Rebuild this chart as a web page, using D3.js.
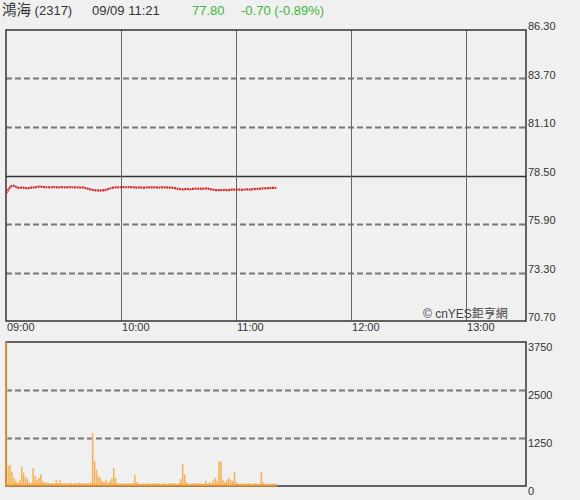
<!DOCTYPE html>
<html><head><meta charset="utf-8">
<script src="https://cdn.jsdelivr.net/npm/d3@7"></script>
<style>
html,body{margin:0;padding:0;background:#f0f0f0;}
svg{display:block;font-family:"Liberation Sans",Arial,"Noto Sans CJK TC",sans-serif;}
</style></head><body>
<svg id="c" width="580" height="500"></svg>
<script>
// ---- data ----
const stockName = "鴻海 (2317)";
const timeStamp = "09/09 11:21";
const lastPrice = "77.80";
const change = "-0.70 (-0.89%)";
const watermark = "© cnYES鉅亨網";
const prevClose = 78.50;
const priceTicks = [86.30, 83.70, 81.10, 78.50, 75.90, 73.30, 70.70];
const volumeTicks = [3750, 2500, 1250, 0];
const timeLabels = ["09:00", "10:00", "11:00", "12:00", "13:00"];
const timeLabelMinutes = [0, 60, 120, 180, 240];
// per-minute prices from 09:00 to 11:21
const prices = [
 77.55,77.70,77.85,77.95,77.95,77.90,77.85,77.82,77.85,77.85,
 77.82,77.83,77.82,77.85,77.87,77.85,77.88,77.90,77.90,77.88,
 77.88,77.87,77.87,77.86,77.87,77.88,77.87,77.86,77.87,77.88,
 77.87,77.86,77.87,77.88,77.87,77.87,77.86,77.87,77.86,77.85,
 77.86,77.84,77.82,77.78,77.76,77.73,77.72,77.70,77.71,77.69,
 77.72,77.70,77.73,77.76,77.80,77.83,77.85,77.86,77.86,77.87,
 77.87,77.88,77.87,77.87,77.88,77.87,77.86,77.87,77.85,77.86,
 77.87,77.85,77.84,77.86,77.87,77.86,77.87,77.86,77.86,77.87,
 77.85,77.86,77.86,77.87,77.86,77.85,77.86,77.84,77.82,77.80,
 77.78,77.77,77.76,77.76,77.78,77.77,77.76,77.78,77.78,77.80,
 77.79,77.80,77.78,77.79,77.81,77.80,77.78,77.76,77.74,77.72,
 77.72,77.72,77.72,77.72,77.73,77.72,77.72,77.74,77.75,77.74,
 77.74,77.76,77.74,77.73,77.74,77.75,77.76,77.74,77.76,77.77,
 77.78,77.79,77.78,77.80,77.81,77.81,77.82,77.82,77.83,77.84,
 77.84,77.84
];
// per-minute volumes (lots)
const volumes = [
 3750,520,550,360,200,130,80,150,500,340,
 230,180,100,80,470,260,150,210,310,130,
 80,100,80,60,80,60,160,80,150,70,
 60,80,50,90,70,60,80,60,90,70,
 60,80,70,60,90,1380,650,420,260,210,
 130,100,160,80,130,200,470,210,80,60,
 70,50,80,60,70,60,80,290,100,60,
 50,70,60,50,80,60,50,70,60,80,
 60,50,70,60,50,70,60,80,60,50,
 80,180,570,310,100,60,50,70,60,80,
 60,70,60,50,130,60,100,70,160,210,
 130,650,620,160,100,160,210,160,130,360,
 100,60,50,70,60,50,60,70,50,60,
 70,60,50,360,100,60,50,60,50,60,
 50,50
];

// ---- layout ----
const svg = d3.select("#c");
const X0 = 6, X1 = 526;
const x = d3.scaleLinear().domain([0, 271]).range([X0, 525.5]);
const yP = d3.scaleLinear().domain([70.70, 86.30]).range([321, 30]);
const yV = d3.scaleLinear().domain([0, 3750]).range([486, 342]).clamp(true);

// header
const hdr = svg.append("g").attr("font-size", 13);
hdr.append("text").attr("x", 2).attr("y", 14.5).attr("fill", "#333")
  .call(t => { t.append("tspan").attr("font-size", 14.5).text("鴻海"); t.append("tspan").text(" (2317)"); });
hdr.append("text").attr("x", 92).attr("y", 14.5).attr("fill", "#333").text(timeStamp);
hdr.append("text").attr("x", 192).attr("y", 14.5).attr("fill", "#3cb83c").text(lastPrice);
hdr.append("text").attr("x", 241).attr("y", 14.5).attr("fill", "#3cb83c").text(change);

// price panel grid
const gp = svg.append("g");
priceTicks.slice(1, -1).forEach(p => {
  const solid = Math.abs(p - prevClose) < 1e-6;
  gp.append("line").attr("x1", X0).attr("x2", X1)
    .attr("y1", Math.round(yP(p)) + 0.5).attr("y2", Math.round(yP(p)) + 0.5)
    .attr("stroke", solid ? "#333" : "#777")
    .attr("stroke-width", solid ? 1.5 : 1.8)
    .attr("stroke-dasharray", solid ? null : "6,3");
});
timeLabelMinutes.slice(1).forEach(m => {
  gp.append("line").attr("x1", Math.round(x(m)) + 0.5).attr("x2", Math.round(x(m)) + 0.5)
    .attr("y1", 30).attr("y2", 321).attr("stroke", "#666").attr("stroke-width", 1);
});
svg.append("rect").attr("x", X0).attr("y", 30).attr("width", X1 - X0).attr("height", 291)
  .attr("fill", "none").attr("stroke", "#333").attr("stroke-width", 1.5);

// price labels
svg.append("g").attr("font-size", 11).attr("fill", "#333")
  .selectAll("text").data(priceTicks).join("text")
  .attr("x", 528).attr("y", d => yP(d) - 2.5).attr("dominant-baseline", "middle")
  .text(d => d.toFixed(2));

// time labels
svg.append("g").attr("font-size", 11).attr("fill", "#333")
  .selectAll("text").data(timeLabels).join("text")
  .attr("x", (d, i) => x(timeLabelMinutes[i]) + 1).attr("y", 328.5)
  .attr("dominant-baseline", "middle").text(d => d);

// watermark
svg.append("text").attr("x", 423).attr("y", 315).attr("font-size", 12)
  .attr("dominant-baseline", "middle").attr("fill", "#444")
  .attr("font-family", "'Liberation Sans','Noto Sans CJK TC',sans-serif").text(watermark);

// price line
const line = d3.line().x((d, i) => x(i)).y(d => yP(d));
svg.append("path").datum(prices).attr("d", line)
  .attr("fill", "none").attr("stroke", "#d42a2a").attr("stroke-width", 2.2)
  .attr("stroke-linejoin", "round").attr("stroke-dasharray", "2,0.6");

// volume panel
const gv = svg.append("g");
volumeTicks.slice(1, -1).forEach(v => {
  gv.append("line").attr("x1", X0).attr("x2", X1)
    .attr("y1", Math.round(yV(v)) + 0.5).attr("y2", Math.round(yV(v)) + 0.5)
    .attr("stroke", "#777").attr("stroke-width", 1.8).attr("stroke-dasharray", "6,3");
});
gv.selectAll("rect.vb").data(volumes).join("rect").attr("class", "vb")
  .attr("x", (d, i) => x(i) - 0.5).attr("width", 1.9)
  .attr("y", d => yV(d)).attr("height", d => 486 - yV(d))
  .attr("fill", "#f9cf9c");
gv.selectAll("line.vl").data(volumes).join("line").attr("class", "vl")
  .attr("x1", (d, i) => x(i) + 0.3).attr("x2", (d, i) => x(i) + 0.3)
  .attr("y1", d => yV(d)).attr("y2", 486)
  .attr("stroke", "#f2a53e").attr("stroke-width", 0.8);
svg.append("rect").attr("x", X0).attr("y", 342).attr("width", X1 - X0).attr("height", 144)
  .attr("fill", "none").attr("stroke", "#333").attr("stroke-width", 1.5);
svg.append("line").attr("x1", X0).attr("x2", x(volumes.length - 1) + 1)
  .attr("y1", 485.5).attr("y2", 485.5).attr("stroke", "#e89a30").attr("stroke-width", 2);
svg.append("line").attr("x1", X0).attr("x2", X0).attr("y1", 342).attr("y2", 486)
  .attr("stroke", "#f2a53e").attr("stroke-width", 1.5);

svg.append("g").attr("font-size", 11).attr("fill", "#333")
  .selectAll("text").data(volumeTicks).join("text")
  .attr("x", 528).attr("y", d => yV(d) + 6).attr("dominant-baseline", "middle")
  .text(d => d);
</script></body></html>
